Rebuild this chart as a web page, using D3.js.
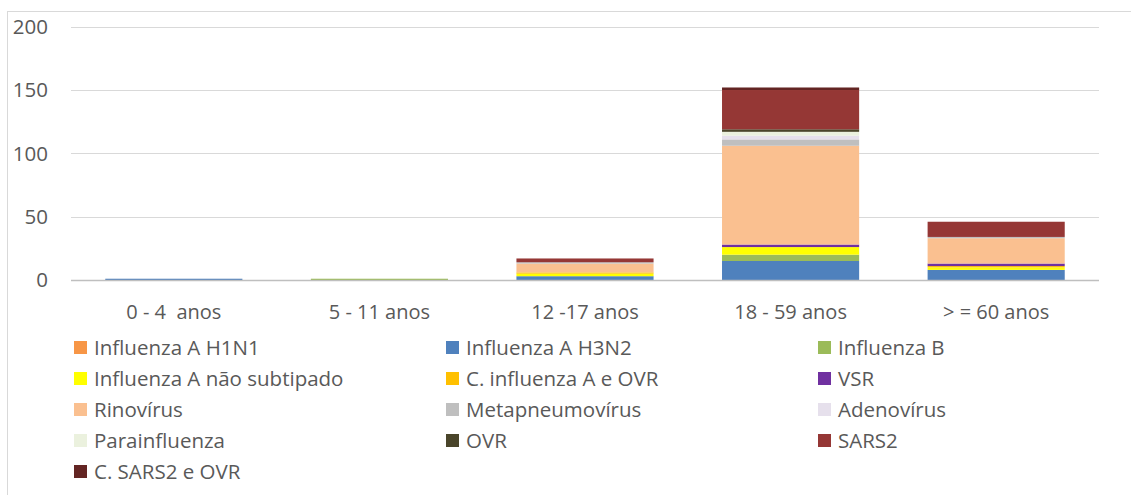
<!DOCTYPE html>
<html>
<head>
<meta charset="utf-8">
<script src="https://cdn.jsdelivr.net/npm/d3@7"></script>
<style>
  body { margin: 0; background: #fff; }
  svg text { font-family: "Open Sans", "Noto Sans", sans-serif; fill: #595959; white-space: pre; }
</style>
</head>
<body>
<div class="container"></div>
<script>
const width = 1131;
const height = 495;

// age groups
const categories = ["0 - 4  anos", "5 - 11 anos", "12 -17 anos", "18 - 59 anos", "> = 60 anos"];

// series, stacked bottom to top
const seriesNames = [
  "Influenza A H1N1", "Influenza A H3N2", "Influenza B",
  "Influenza A não subtipado", "C. influenza A e OVR", "VSR",
  "Rinovírus", "Metapneumovírus", "Adenovírus",
  "Parainfluenza", "OVR", "SARS2",
  "C. SARS2 e OVR"
];
const seriesColors = [
  "#f79646", "#4f81bd", "#9bbb59",
  "#ffff00", "#ffc000", "#7030a0",
  "#fac090", "#bfbfbf", "#e6e0ec",
  "#ebf1de", "#4a452a", "#953735",
  "#632523"
];

// values per series, one per age group
const influenzaH1N1 = [0, 0, 0, 0, 0];
const influenzaH3N2 = [1, 0, 3, 15, 8];
const influenzaB = [0, 1, 0, 5, 0];
const influenzaNaoSub = [0, 0, 2, 6, 2];
const coinfInfluenzaOVR = [0, 0, 1, 0, 1];
const vsr = [0, 0, 0, 2, 2];
const rinovirus = [0, 0, 7, 78, 20];
const metapneumovirus = [0, 0, 1, 5, 1];
const adenovirus = [0, 0, 0, 3, 0];
const parainfluenza = [0, 0, 0, 3, 0];
const ovr = [0, 0, 0, 2, 0];
const sars2 = [0, 0, 3, 31, 12];
const coinfSars2OVR = [0, 0, 0, 2, 0];

const seriesValues = [
  influenzaH1N1, influenzaH3N2, influenzaB,
  influenzaNaoSub, coinfInfluenzaOVR, vsr,
  rinovirus, metapneumovirus, adenovirus,
  parainfluenza, ovr, sars2,
  coinfSars2OVR
];

const yTicks = [0, 50, 100, 150, 200];

// build rows for d3.stack
const rows = categories.map((c, i) => {
  const row = { category: c };
  seriesNames.forEach((s, j) => { row[s] = seriesValues[j][i]; });
  return row;
});

const svg = d3.select(".container")
  .append("svg")
  .attr("width", width)
  .attr("height", height)
  .attr("viewBox", `0 0 ${width} ${height}`);

// chart border
svg.append("rect")
  .attr("x", 7.5)
  .attr("y", 11.5)
  .attr("width", 1140)
  .attr("height", 500)
  .attr("fill", "#fff")
  .attr("stroke", "#d9d9d9")
  .attr("stroke-width", 1);

const x = d3.scaleBand()
  .domain(categories)
  .range([71, 1099])
  .paddingInner(0.333)
  .paddingOuter(0.1667);

const y = d3.scaleLinear()
  .domain([0, 200])
  .range([280, 26.7]);

// gridlines
svg.append("g")
  .selectAll("line")
  .data(yTicks.filter(d => d > 0))
  .join("line")
  .attr("x1", 71)
  .attr("x2", 1099)
  .attr("y1", d => Math.round(y(d)) + 0.5)
  .attr("y2", d => Math.round(y(d)) + 0.5)
  .attr("stroke", "#d9d9d9")
  .attr("stroke-width", 1);

// y tick labels
svg.append("g")
  .selectAll("text")
  .data(yTicks)
  .join("text")
  .attr("x", 48)
  .attr("y", d => y(d))
  .attr("dy", "0.35em")
  .attr("text-anchor", "end")
  .style("font-size", "20.5px")
  .text(d => d);

// stacked bars
const stack = d3.stack().keys(seriesNames);
const stacked = stack(rows);
svg.append("g")
  .selectAll("g")
  .data(stacked)
  .join("g")
  .attr("fill", (d, i) => seriesColors[i])
  .selectAll("rect")
  .data(d => d)
  .join("rect")
  .attr("x", d => x(d.data.category))
  .attr("width", x.bandwidth())
  .attr("y", d => y(d[1]))
  .attr("height", d => y(d[0]) - y(d[1]));

// x axis line
svg.append("line")
  .attr("x1", 71)
  .attr("x2", 1099)
  .attr("y1", 280.5)
  .attr("y2", 280.5)
  .attr("stroke", "#bfbfbf")
  .attr("stroke-width", 1.5);

// x labels
svg.append("g")
  .selectAll("text")
  .data(categories)
  .join("text")
  .attr("x", d => x(d) + x.bandwidth() / 2)
  .attr("y", 312)
  .attr("dy", "0.35em")
  .attr("text-anchor", "middle")
  .style("font-size", "20px")
  .text(d => d);

// legend, 3 columns
const legendCols = [74, 446, 818];
const legendRow0 = 348;
const legendRowStep = 31;
const legend = svg.append("g")
  .selectAll("g")
  .data(seriesNames)
  .join("g")
  .attr("transform", (d, i) => `translate(${legendCols[i % 3]},${legendRow0 + Math.floor(i / 3) * legendRowStep})`);
legend.append("rect")
  .attr("x", 0)
  .attr("y", -7)
  .attr("width", 13)
  .attr("height", 13)
  .attr("fill", (d, i) => seriesColors[i]);
legend.append("text")
  .attr("x", 20)
  .attr("y", 0)
  .attr("dy", "0.35em")
  .style("font-size", "20.5px")
  .text(d => d);
</script>
</body>
</html>
